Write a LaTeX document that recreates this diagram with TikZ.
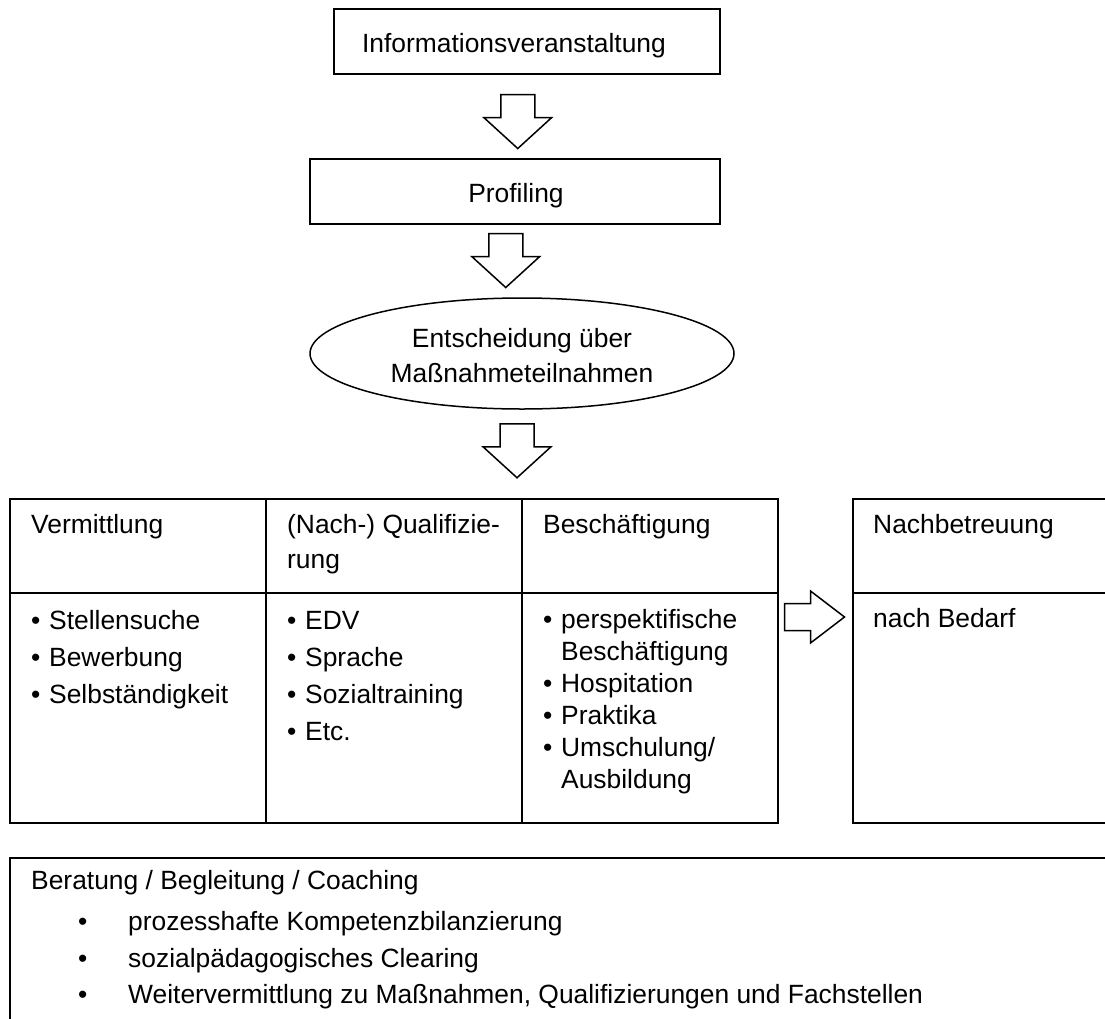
\documentclass[tikz,border=0pt]{standalone}
\usepackage{fontspec}
\setmainfont{Liberation Sans}
\usetikzlibrary{shapes.geometric}
\newcommand\mybul{\makebox[18pt][l]{\textbullet}}
\newcommand\widebul{\makebox[50pt][l]{\textbullet}}
\begin{document}
\begin{tikzpicture}[x=1pt,y=-1pt,
  lw/.style={line width=1.5pt},
  frame/.style={draw, lw, rectangle, inner sep=0pt, anchor=north west},
  txt/.style={anchor=base west, inner sep=0pt, font=\fontsize{26.4}{31.8}\selectfont},
  ctxt/.style={anchor=base, inner sep=0pt, font=\fontsize{26.4}{31.8}\selectfont},
  blockarrow/.style={draw, lw, fill=white, line join=miter},
  downarr/.pic={\draw[blockarrow] (-17,0) -- (17,0) -- (17,23) -- (34,23) -- (0,54) -- (-34,23) -- (-17,23) -- cycle;},
  rightarr/.pic={\draw[blockarrow] (0,-13.5) -- (26,-13.5) -- (26,-26) -- (60,0) -- (26,26) -- (26,13.5) -- (0,13.5) -- cycle;}
]
\useasboundingbox (0,0) rectangle (1105,1018);
\clip (0,0) rectangle (1105,1018);

% top flow
\node[frame, minimum width=386pt, minimum height=65pt] (info) at (333,8) {};
\node[ctxt] (infoT) at (514,52) {Informationsveranstaltung};
\node[frame, minimum width=410pt, minimum height=65pt] (prof) at (309,158) {};
\node[ctxt] (profT) at (516,202) {Profiling};
\node[draw, lw, ellipse, inner sep=0pt, minimum width=424pt, minimum height=111pt] (dec) at (522,353.5) {};
\node[ctxt] (decT1) at (522,347) {Entscheidung über};
\node[ctxt] (decT2) at (522,382) {Maßnahmeteilnahmen};

\path (info.south) ++(-9,20) pic {downarr};
\path (prof.south) ++(-9,9) pic {downarr};
\path (dec.south) ++(-5,14) pic {downarr};

% table
\node[frame, minimum width=256pt, minimum height=94pt] (h1) at (9,498) {};
\node[frame, minimum width=256pt, minimum height=94pt] (h2) at (265,498) {};
\node[frame, minimum width=256pt, minimum height=94pt] (h3) at (521,498) {};
\node[frame, minimum width=256pt, minimum height=230pt] (b1) at (9,592) {};
\node[frame, minimum width=256pt, minimum height=230pt] (b2) at (265,592) {};
\node[frame, minimum width=256pt, minimum height=230pt] (b3) at (521,592) {};
\node[frame, minimum width=320pt, minimum height=94pt] (h4) at (852,498) {};
\node[frame, minimum width=320pt, minimum height=230pt] (b4) at (852,592) {};

\path (b3.north east) ++(6,25) pic {rightarr};

\node[txt] (h1T) at (31,533) {Vermittlung};
\node[txt] (h2T) at (287,533) {(Nach-) Qualifizie-};
\node[txt] (h2T2) at (287,568) {rung};
\node[txt] (h3T) at (543,533) {Beschäftigung};
\node[txt] (h4T) at (873,533) {Nachbetreuung};

\node[txt] (l11) at (31,629) {\mybul Stellensuche};
\node[txt] (l12) at (31,666) {\mybul Bewerbung};
\node[txt] (l13) at (31,703) {\mybul Selbständigkeit};

\node[txt] (l21) at (287,629) {\mybul EDV};
\node[txt] (l22) at (287,666) {\mybul Sprache};
\node[txt] (l23) at (287,703) {\mybul Sozialtraining};
\node[txt] (l24) at (287,740) {\mybul Etc.};

\node[txt] (l31) at (543,628) {\mybul perspektifische};
\node[txt] (l31b) at (561,660) {Beschäftigung};
\node[txt] (l32) at (543,692) {\mybul Hospitation};
\node[txt] (l33) at (543,724) {\mybul Praktika};
\node[txt] (l34) at (543,756) {\mybul Umschulung/};
\node[txt] (l34b) at (561,788) {Ausbildung};

\node[txt] (l41) at (873,627) {nach Bedarf};

% bottom box
\node[frame, minimum width=1200pt, minimum height=300pt] (bera) at (9,857) {};
\node[txt] (beraT) at (31,889) {Beratung / Begleitung / Coaching};
\node[txt] (m1) at (78,930) {\widebul prozesshafte Kompetenzbilanzierung};
\node[txt] (m2) at (78,967) {\widebul sozialpädagogisches Clearing};
\node[txt] (m3) at (78,1003) {\widebul Weitervermittlung zu Maßnahmen, Qualifizierungen und Fachstellen};
\end{tikzpicture}
\end{document}
